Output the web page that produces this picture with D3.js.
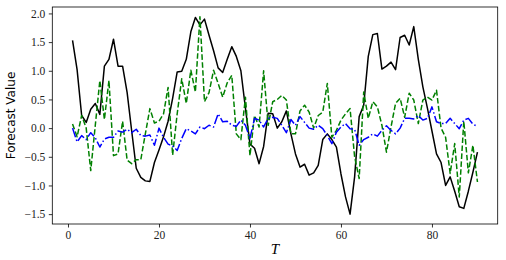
<!DOCTYPE html>
<html><head><meta charset="utf-8">
<script src="https://cdn.jsdelivr.net/npm/d3@7"></script>
<style>
html,body{margin:0;padding:0;background:#fff;}
svg{display:block;}
</style></head>
<body>
<svg id="chart" width="506" height="260"></svg>
<script>
const steps = d3.range(1, 91);
const blackSeries = [1.53,1.02,0.22,0.10,0.33,0.43,0.24,1.08,1.20,1.55,
 1.08,1.08,0.62,-0.05,-0.70,-0.86,-0.92,-0.93,-0.60,-0.38,
 -0.15,0.12,0.52,0.98,0.99,1.20,1.68,1.93,1.80,1.90,
 1.62,1.35,1.05,0.97,1.20,1.42,1.25,1.00,0.35,-0.28,
 -0.35,-0.62,-0.32,0.26,0.25,0.00,0.11,0.30,-0.10,-0.45,
 -0.68,-0.63,-0.82,-0.78,-0.65,-0.20,-0.10,-0.20,-0.33,-0.80,
 -1.20,-1.50,-0.85,0.20,0.40,1.25,1.63,1.65,1.03,1.08,
 1.15,1.02,1.58,1.62,1.45,1.77,1.20,0.72,0.35,-0.05,
 -0.45,-0.60,-1.00,-0.85,-1.10,-1.37,-1.40,-1.10,-0.77,-0.42];
const greenSeries = [0.07,-0.15,0.22,0.00,-0.74,0.05,0.83,0.15,0.83,-0.48,
 -0.45,0.12,-0.56,-0.62,-0.55,-0.55,-0.10,0.34,0.09,0.12,
 0.25,0.71,-0.47,0.25,0.86,0.43,1.01,0.63,1.94,0.46,
 0.62,1.01,0.78,0.54,0.79,0.92,-0.10,-0.20,0.54,-0.48,
 0.22,0.02,1.00,0.05,0.46,0.50,0.57,0.49,-0.10,-0.10,
 0.30,0.40,0.28,0.00,0.22,0.28,0.78,-0.16,-0.04,0.14,
 0.25,0.34,-0.50,-0.88,0.63,0.17,0.46,0.37,0.05,-0.42,
 0.02,0.43,0.52,0.19,0.61,0.49,0.08,0.49,0.54,0.49,
 0.66,0.00,-0.16,-0.79,-0.27,-1.20,0.12,-0.78,-0.30,-0.94];
const blueSeries = [0.00,-0.24,-0.13,-0.20,-0.08,-0.17,-0.33,-0.19,-0.16,-0.16,
 -0.05,-0.07,-0.02,-0.08,-0.02,-0.13,-0.14,-0.12,-0.30,0.00,
 -0.16,-0.28,-0.31,-0.39,-0.18,-0.01,-0.05,-0.10,0.02,-0.01,
 0.05,0.02,0.25,0.11,0.12,0.05,0.03,0.14,0.05,-0.18,
 0.17,0.14,0.02,0.17,0.19,0.17,0.05,-0.08,0.15,0.05,
 0.20,0.10,0.00,-0.02,0.05,-0.01,-0.13,-0.27,-0.07,0.02,
 0.08,-0.01,-0.02,-0.30,-0.20,-0.16,-0.10,-0.14,-0.04,0.04,
 -0.04,-0.10,0.00,0.17,0.17,0.16,0.22,0.14,0.17,0.37,
 0.11,0.08,0.08,0.17,0.08,-0.01,0.14,0.17,0.07,0.03];
const xTicks = [0, 20, 40, 60, 80];
const yTicks = [-1.5, -1.0, -0.5, 0.0, 0.5, 1.0, 1.5, 2.0];
const xLabel = "T";
const yLabel = "Forecast Value";

const W = 506, H = 260;
const m = {left: 52.3, right: 8.3, top: 7, bottom: 36};
const svg = d3.select("#chart");

function padDomain(lo, hi) { const r = hi - lo; return [lo - 0.05 * r, hi + 0.05 * r]; }
const allVals = blackSeries.concat(greenSeries, blueSeries);
const x = d3.scaleLinear().domain(padDomain(d3.min(steps), d3.max(steps))).range([m.left, W - m.right]);
const y = d3.scaleLinear().domain(padDomain(d3.min(allVals), d3.max(allVals))).range([H - m.bottom, m.top]);

const fmt = v => d3.format(".1f")(v).replace("-", "\u2212");

const line = d3.line().x((d, i) => x(steps[i])).y(d => y(d));
const series = [
  {data: blackSeries, color: "#000000", dash: null},
  {data: greenSeries, color: "#008000", dash: "5.55,2.4"},
  {data: blueSeries, color: "#0000ff", dash: "9.6,2.4,1.5,2.4"}
];
svg.append("g").selectAll("path").data(series).join("path")
  .attr("d", s => line(s.data))
  .attr("fill", "none")
  .attr("stroke", s => s.color)
  .attr("stroke-width", 1.5)
  .attr("stroke-dasharray", s => s.dash)
  .attr("stroke-linejoin", "round");

const xAxis = svg.append("g").attr("transform", `translate(0,${H - m.bottom})`)
  .call(d3.axisBottom(x).tickValues(xTicks).tickFormat(d => d).tickSizeOuter(0).tickSize(3.5).tickPadding(3.5));
const yAxis = svg.append("g").attr("transform", `translate(${m.left},0)`)
  .call(d3.axisLeft(y).tickValues(yTicks).tickFormat(fmt).tickSizeOuter(0).tickSize(3.5).tickPadding(3.5));
[xAxis, yAxis].forEach(a => {
  a.select(".domain").remove();
  a.selectAll(".tick line").attr("stroke", "#000").attr("stroke-width", 0.8);
  a.selectAll(".tick text").attr("font-family", "'Liberation Serif', serif").attr("font-size", 11.5).attr("fill", "#222");
});

svg.append("rect")
  .attr("x", m.left).attr("y", m.top)
  .attr("width", W - m.left - m.right).attr("height", H - m.top - m.bottom)
  .attr("fill", "none").attr("stroke", "#000").attr("stroke-width", 0.8);

svg.append("text")
  .attr("x", (m.left + W - m.right) / 2).attr("y", 254)
  .attr("text-anchor", "middle")
  .attr("font-family", "'Liberation Serif', serif").attr("font-style", "italic").attr("font-size", 15)
  .text(xLabel);

svg.append("text")
  .attr("transform", `translate(15,${(m.top + H - m.bottom) / 2}) rotate(-90)`)
  .attr("text-anchor", "middle")
  .attr("font-family", "'DejaVu Sans', sans-serif").attr("font-size", 12)
  .text(yLabel);
</script>
</body></html>
